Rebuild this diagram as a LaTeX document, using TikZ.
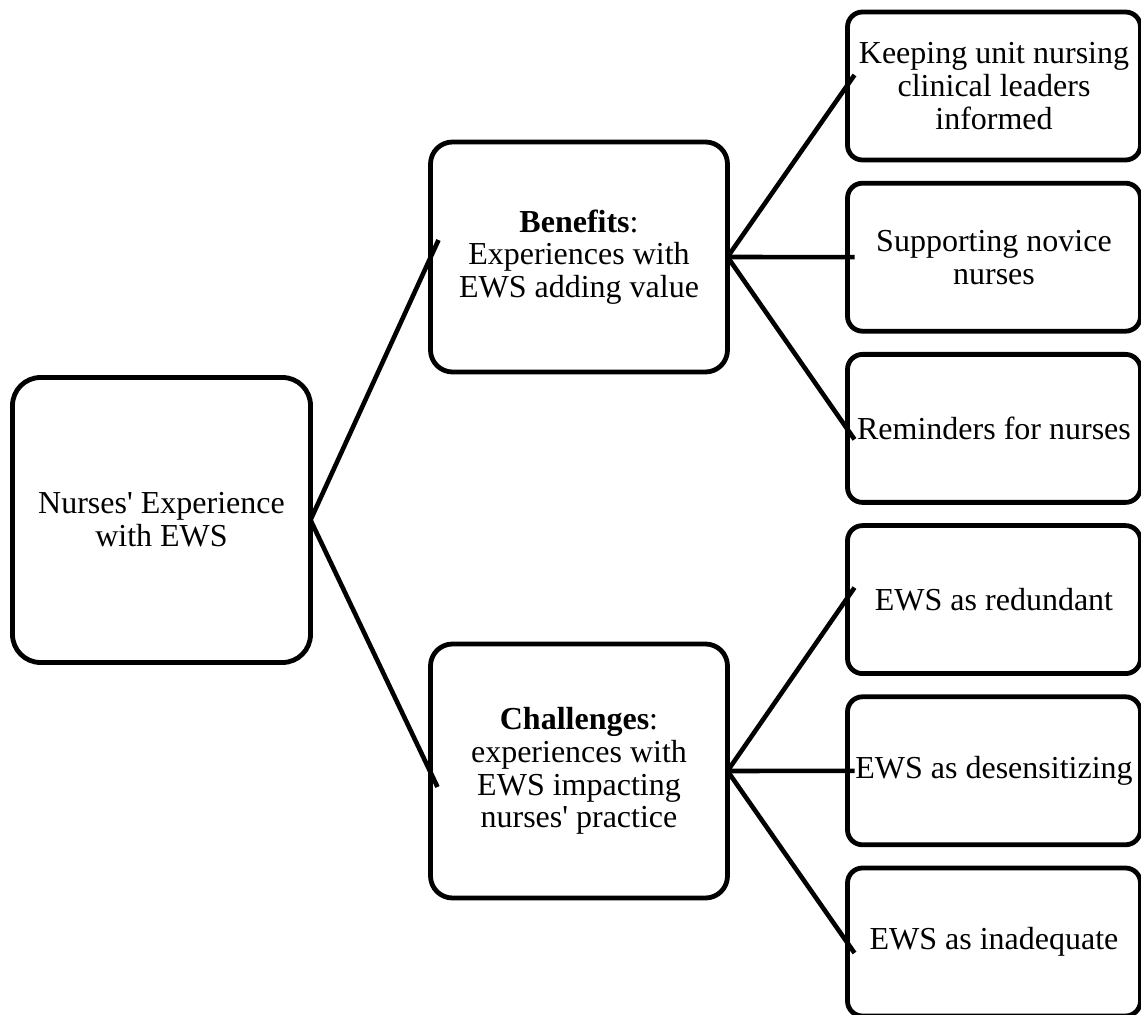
\documentclass[tikz,border=0pt]{standalone}
\usepackage{fontspec}
\setmainfont{Liberation Serif}[Ligatures=TeXOff]
\usepackage{tikz}
\usetikzlibrary{positioning}

\begin{document}
\begin{tikzpicture}[
    font=\fontsize{16}{16.4}\selectfont,
    box/.style    ={draw, line width=2.4pt, align=center, outer sep=0pt,
                    inner sep=2pt},
    rootbox/.style={box, rounded corners=14pt,
                    minimum width=149pt, minimum height=142.5pt},
    midbox/.style ={box, rounded corners=11pt, minimum width=148.5pt},
    leafbox/.style={box, rounded corners=7.5pt,
                    minimum width=146.5pt, minimum height=74pt},
    link/.style   ={line width=2.3pt}
]
\useasboundingbox (0,0) rectangle (570.5pt,-507.5pt);

% --- root ---
\node[rootbox] (nurses) at (80.75pt,-260pt) {Nurses' Experience\\with EWS};

% --- middle level ---
\node[midbox, minimum height=115pt] (benefits) at (289.5pt,-128.5pt)
    {\textbf{Benefits}:\\Experiences with\\EWS adding value};
\node[midbox, minimum height=127pt] (challenges) at (289.5pt,-385.5pt)
    {\textbf{Challenges}:\\experiences with\\EWS impacting\\nurses' practice};

% --- leaves, stacked in one column ---
\node[leafbox] (leaders) at (497pt,-43pt)
    {Keeping unit nursing\\clinical leaders\\informed};
\node[leafbox, below=11.6pt of leaders] (novice) {Supporting novice\\nurses};
\node[leafbox, below=11.6pt of novice] (reminders) {Reminders for nurses};
\node[leafbox, below=11.6pt of reminders] (redundant) {EWS as redundant};
\node[leafbox, below=11.6pt of redundant] (desens) {EWS as desensitizing};
\node[leafbox, below=11.6pt of desens] (inadequate) {EWS as inadequate};

% --- links from root ---
\draw[link] (nurses.east) -- ([shift={(4pt,8.5pt)}]benefits.west);
\draw[link] (nurses.east) -- ([shift={(3.5pt,-8pt)}]challenges.west);

% --- links from benefits ---
\draw[link] (benefits.east) -- ([shift={(3.5pt,5.5pt)}]leaders.west);
\draw[link] (benefits.east) -- ([xshift=3.5pt]novice.west);
\draw[link] (benefits.east) -- ([shift={(3.5pt,-5.5pt)}]reminders.west);

% --- links from challenges ---
\draw[link] (challenges.east) -- ([shift={(3.5pt,6pt)}]redundant.west);
\draw[link] (challenges.east) -- ([xshift=3.5pt]desens.west);
\draw[link] (challenges.east) -- ([shift={(3.5pt,-5.5pt)}]inadequate.west);

\end{tikzpicture}
\end{document}
